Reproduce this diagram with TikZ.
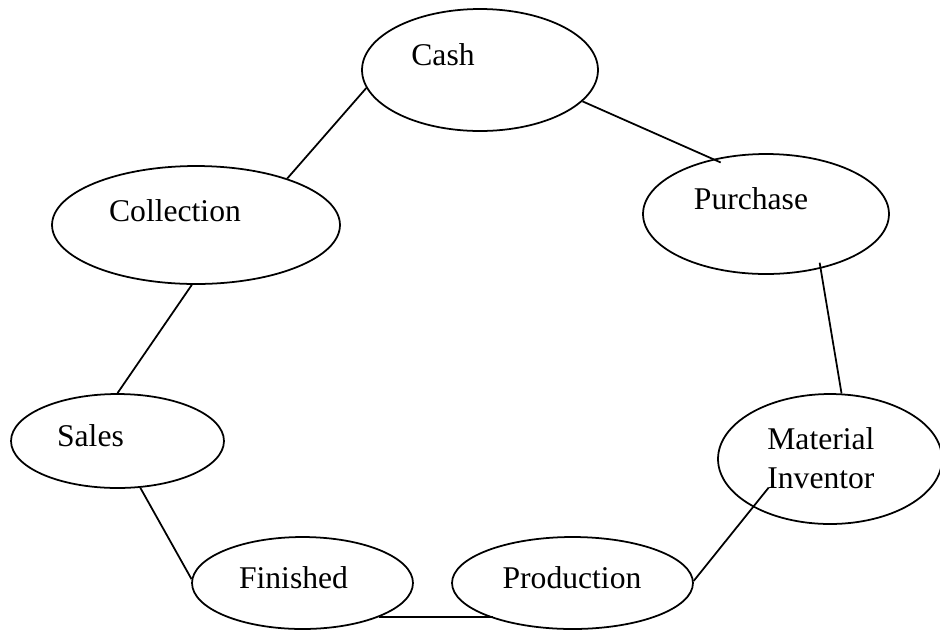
\documentclass[tikz,border=0pt]{standalone}
\usepackage{fontspec}
\setmainfont{Liberation Serif}
\usetikzlibrary{shapes.geometric}

\tikzset{
	stage/.style={draw, ellipse, line width=1pt, inner sep=0pt},
	stagetext/.style={inner sep=0pt, anchor=base, font=\fontsize{18}{22.2}\selectfont},
	link/.style={line width=1pt}
}

\begin{document}
\begin{tikzpicture}[x=0.02cm, y=-0.02cm]
			%%%%% START %%%%%
			
			\useasboundingbox (0, 0) rectangle (940, 630);
			
			\node[stage, minimum width=4.72cm, minimum height=2.44cm] (cash) at (480, 70) {};
			\node[stagetext] (cashtxt) at (443, 65) {Cash};
			
			\node[stage, minimum width=5.76cm, minimum height=2.36cm] (collection) at (196, 225) {};
			\node[stagetext] (collectiontxt) at (175, 221) {Collection};
			
			\node[stage, minimum width=4.92cm, minimum height=2.40cm] (purchase) at (766, 214) {};
			\node[stagetext] (purchasetxt) at (751, 209) {Purchase};
			
			\node[stage, minimum width=4.26cm, minimum height=1.88cm] (sales) at (117.5, 441) {};
			\node[stagetext] (salestxt) at (90.5, 446) {Sales};
			
			\node[stage, minimum width=4.48cm, minimum height=2.60cm] (material) at (830, 459) {};
			\node[stagetext, align=left, anchor=north west] (materialtxt) at (767, 427) {Material\\Inventor};
			
			\node[stage, minimum width=4.42cm, minimum height=1.84cm] (finished) at (302.5, 583) {};
			\node[stagetext] (finishedtxt) at (293.5, 588) {Finished};
			
			\node[stage, minimum width=4.82cm, minimum height=1.84cm] (production) at (572.5, 583) {};
			\node[stagetext] (productiontxt) at (572, 588) {Production};
			
			\draw[link] (cash.189) -- (collection.27);
			\draw[link, shorten >=-0.17cm] (cash.343) -- (purchase.134);
			\draw[link, shorten <=-0.12cm] (purchase.315) -- (material.80);
			\draw[link] (collection.266) -- (sales.90);
			\draw[link] (sales.296) -- (finished.178);
			\draw[link] (finished.336) -- (finished.336 -| production.204);
			\draw[link, shorten >=-0.5cm] (production.1) -- (material.212);
			
			%%%%% END %%%%%
\end{tikzpicture}
\end{document}
